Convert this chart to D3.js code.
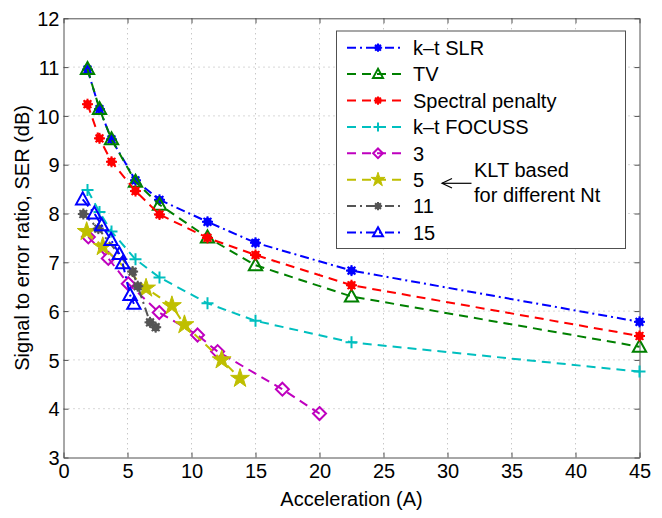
<!DOCTYPE html>
<html><head><meta charset="utf-8">
<script src="https://cdn.jsdelivr.net/npm/d3@7"></script>
<style>body{margin:0;background:#fff}svg{display:block}text{font-family:"Liberation Sans",Arial,sans-serif}</style>
</head><body>
<svg id="c" width="662" height="518"></svg>
<script>
// ---- data ----
const accel = [1.875, 2.8125, 3.75, 5.625, 7.5, 11.25, 15, 22.5, 45];
const serSLR = [10.95, 10.14, 9.52, 8.68, 8.28, 7.83, 7.40, 6.83, 5.78];
const serTV = [10.96, 10.14, 9.52, 8.65, 8.18, 7.51, 6.94, 6.30, 5.27];
const serSpectral = [10.24, 9.54, 9.06, 8.46, 7.98, 7.50, 7.15, 6.53, 5.49];
const serFOCUSS = [8.48, 8.03, 7.63, 7.06, 6.69, 6.16, 5.80, 5.36, 4.76];
const accelKLT3 = [1.94, 3.5, 5.06, 7.48, 10.47, 12.04, 17.1, 20.0];
const serKLT3 = [7.52, 7.08, 6.56, 5.97, 5.51, 5.17, 4.40, 3.90];
const accelKLT5 = [1.81, 3.07, 6.45, 8.47, 9.45, 12.36, 13.79];
const serKLT5 = [7.63, 7.32, 6.47, 6.11, 5.72, 5.00, 4.62];
const accelKLT11 = [1.55, 2.72, 5.4, 5.8, 6.76, 7.2];
const serKLT11 = [7.99, 7.69, 6.81, 6.51, 5.77, 5.67];
const accelKLT15 = [1.5, 2.41, 2.98, 3.71, 4.36, 4.62, 5.2, 5.5];
const serKLT15 = [8.29, 8.00, 7.76, 7.46, 7.17, 6.98, 6.33, 6.15];
const seriesNames = ["k\u2013t SLR", "TV", "Spectral penalty", "k\u2013t FOCUSS", "3", "5", "11", "15"];
const xTicks = [0,5,10,15,20,25,30,35,40,45];
const yTicks = [3,4,5,6,7,8,9,10,11,12];

// ---- styling ----
const DASH = "9,6", DASHDOT = "9,4,2,4";
const series = [
  {name: seriesNames[0], x: accel, y: serSLR, color: "#0000ff", dash: DASHDOT, marker: "ast"},
  {name: seriesNames[1], x: accel, y: serTV, color: "#008000", dash: DASH, marker: "tri"},
  {name: seriesNames[2], x: accel, y: serSpectral, color: "#ff0000", dash: DASH, marker: "ast"},
  {name: seriesNames[3], x: accel, y: serFOCUSS, color: "#00bfbf", dash: DASH, marker: "plus"},
  {name: seriesNames[4], x: accelKLT3, y: serKLT3, color: "#bf00bf", dash: DASH, marker: "dia"},
  {name: seriesNames[5], x: accelKLT5, y: serKLT5, color: "#bfbf00", dash: DASH, marker: "star"},
  {name: seriesNames[6], x: accelKLT11, y: serKLT11, color: "#555555", dash: DASHDOT, marker: "ast"},
  {name: seriesNames[7], x: accelKLT15, y: serKLT15, color: "#0000ff", dash: DASHDOT, marker: "tri"}
];

const L = 63.5, R = 639.5, T = 18.3, B = 457.5;
const x = d3.scaleLinear().domain([0,45]).range([L,R]);
const y = d3.scaleLinear().domain([3,12]).range([B,T]);
const svg = d3.select("#c");

// grid
const grid = svg.append("g").attr("stroke", "#b0b0b0").attr("stroke-width", 1).attr("stroke-dasharray", "1,4");
xTicks.slice(1,-1).forEach(t => grid.append("line").attr("x1", x(t)).attr("x2", x(t)).attr("y1", T).attr("y2", B));
yTicks.slice(1,-1).forEach(t => grid.append("line").attr("x1", L).attr("x2", R).attr("y1", y(t)).attr("y2", y(t)));

// axes
const fs = 20;
const xAxis = d3.axisBottom(x).tickValues(xTicks).tickSizeInner(-5).tickSizeOuter(0).tickPadding(10);
const gx = svg.append("g").attr("transform", `translate(0,${B})`).call(xAxis);
const yAxis = d3.axisLeft(y).tickValues(yTicks).tickSizeInner(-5).tickSizeOuter(0).tickPadding(4);
const gy = svg.append("g").attr("transform", `translate(${L},0)`).call(yAxis);
const gxt = svg.append("g").attr("transform", `translate(0,${T})`).call(d3.axisTop(x).tickValues(xTicks).tickSizeInner(-5).tickSizeOuter(0).tickFormat(""));
const gyr = svg.append("g").attr("transform", `translate(${R},0)`).call(d3.axisRight(y).tickValues(yTicks).tickSizeInner(-5).tickSizeOuter(0).tickFormat(""));
[gx, gy, gxt, gyr].forEach(g => {
  g.select(".domain").attr("stroke", "#505050").attr("stroke-width", 1);
  g.selectAll(".tick line").attr("stroke", "#505050");
  g.selectAll("text").attr("font-size", fs).attr("fill", "#000").attr("font-family", "Liberation Sans, Arial, sans-serif");
});
gx.selectAll(".tick text").attr("dy", "0.5em");
gy.selectAll(".tick text").attr("dy", "0.36em");

// axis labels
svg.append("text").attr("x", (L+R)/2).attr("y", 506).attr("text-anchor", "middle").attr("font-size", fs).text("Acceleration (A)");
svg.append("text").attr("transform", `translate(29,${(T+B)/2}) rotate(-90)`).attr("text-anchor", "middle").attr("font-size", fs).text("Signal to error ratio, SER (dB)");

// markers
function drawMarker(g, type, cx, cy, color, s) {
  s = s || 1;
  if (type === "ast") {
    g.append("circle").attr("cx", cx).attr("cy", cy).attr("r", 4.2*s).attr("fill", color);
    for (let k = 0; k < 4; k++) {
      const a = k*Math.PI/4, r = 5.5*s;
      g.append("line").attr("x1", cx - r*Math.cos(a)).attr("y1", cy - r*Math.sin(a))
        .attr("x2", cx + r*Math.cos(a)).attr("y2", cy + r*Math.sin(a))
        .attr("stroke", color).attr("stroke-width", 2);
    }
  } else if (type === "tri") {
    const h = 7*s;
    g.append("path").attr("d", `M${cx},${cy-h} L${cx+h*0.95},${cy+h*0.72} L${cx-h*0.95},${cy+h*0.72} Z`)
      .attr("fill", "none").attr("stroke", color).attr("stroke-width", 2);
  } else if (type === "plus") {
    const r = 6*s;
    g.append("path").attr("d", `M${cx-r},${cy} H${cx+r} M${cx},${cy-r} V${cy+r}`).attr("stroke", color).attr("stroke-width", 2);
  } else if (type === "dia") {
    const r = 6.5*s;
    g.append("path").attr("d", `M${cx},${cy-r} L${cx+r},${cy} L${cx},${cy+r} L${cx-r},${cy} Z`)
      .attr("fill", "none").attr("stroke", color).attr("stroke-width", 2);
  } else if (type === "star") {
    g.append("path").attr("d", d3.symbol(d3.symbolStar, 110*s*s)()).attr("transform", `translate(${cx},${cy})`)
      .attr("fill", color).attr("stroke", color).attr("stroke-width", 1);
  }
}

const line = d3.line().x(d => x(d[0])).y(d => y(d[1]));
series.forEach(sr => {
  const pts = sr.x.map((v, i) => [v, sr.y[i]]);
  const g = svg.append("g");
  g.append("path").datum(pts).attr("d", line).attr("fill", "none").attr("stroke", sr.color)
    .attr("stroke-width", 2).attr("stroke-dasharray", sr.dash);
  pts.forEach(p => drawMarker(g, sr.marker, x(p[0]), y(p[1]), sr.color, 1));
});

// legend
const lg = svg.append("g");
lg.append("rect").attr("x", 336.5).attr("y", 31).attr("width", 289).attr("height", 217.5)
  .attr("fill", "#fff").attr("stroke", "#505050").attr("stroke-width", 1);
series.forEach((sr, i) => {
  const yy = 47.7 + i*26.4;
  lg.append("line").attr("x1", 347).attr("x2", 402).attr("y1", yy).attr("y2", yy)
    .attr("stroke", sr.color).attr("stroke-width", 2).attr("stroke-dasharray", sr.dash);
  drawMarker(lg, sr.marker, 378, yy, sr.color, 0.75);
  lg.append("text").attr("x", 413).attr("y", yy).attr("dy", "0.36em").attr("font-size", fs).text(sr.name);
});
// annotation
lg.append("text").attr("x", 474).attr("y", 177).attr("font-size", fs).text("KLT based");
lg.append("text").attr("x", 474).attr("y", 201.5).attr("font-size", fs).text("for different Nt");
lg.append("line").attr("x1", 471.5).attr("x2", 442).attr("y1", 183.3).attr("y2", 183.3).attr("stroke", "#000").attr("stroke-width", 1.2);
lg.append("path").attr("d", "M452,178.5 L442,183.3 L452,188").attr("fill", "none").attr("stroke", "#000").attr("stroke-width", 1.2);
</script>
</body></html>
